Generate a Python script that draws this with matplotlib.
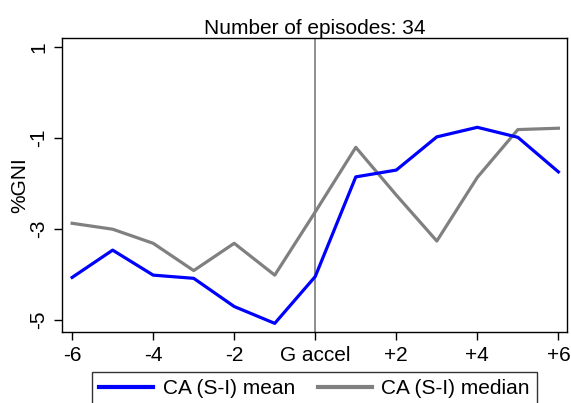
import matplotlib.pyplot as plt

plt.rcParams['font.family'] = ['Liberation Sans', 'DejaVu Sans']

years = [-6, -5, -4, -3, -2, -1, 0, 1, 2, 3, 4, 5, 6]
ca_mean = [-4.07, -3.47, -4.02, -4.09, -4.71, -5.08, -4.05, -1.86, -1.71, -0.98, -0.77, -0.99, -1.75]
ca_median = [-2.88, -3.01, -3.32, -3.92, -3.32, -4.02, -2.63, -1.21, -2.26, -3.27, -1.87, -0.82, -0.79]

xticks = [-6, -4, -2, 0, 2, 4, 6]
xtick_labels = ['-6', '-4', '-2', 'G accel', '+2', '+4', '+6']
yticks = [1, -1, -3, -5]

fig = plt.figure(figsize=(5.71, 4.03), dpi=100)
ax = fig.add_axes([62 / 571, 1 - 332 / 403, (567.3 - 62) / 571, (332 - 37.7) / 403])

ax.axvline(0, color='#707070', lw=1.1, zorder=1)
ax.plot(years, ca_mean, color='#0000ff', lw=2.3, label='CA (S-I) mean', zorder=3)
ax.plot(years, ca_median, color='#808080', lw=2.3, label='CA (S-I) median', zorder=2)

ax.set_xlim(-6.25, 6.22)
ax.set_ylim(-5.27, 1.2)
ax.set_xticks(xticks)
ax.set_xticklabels(xtick_labels, fontsize=15)
ax.set_yticks(yticks)
ax.set_yticklabels([str(v) for v in yticks], fontsize=15, rotation=90, va='center')
ax.tick_params(direction='out', length=6, width=1, pad=4)
ax.set_ylabel('%GNI', fontsize=15, labelpad=0)
ax.set_title('Number of episodes: 34', fontsize=15, pad=3)
for s in ax.spines.values():
    s.set_linewidth(1)

leg = fig.legend(loc='upper center', bbox_to_anchor=(0.5506, 1 - 372 / 403), ncol=2,
                 fontsize=15, frameon=True, fancybox=False, edgecolor='black',
                 handlelength=2.6, columnspacing=1.1, borderpad=0.35, handletextpad=0.45,
                 borderaxespad=0)
leg.get_frame().set_linewidth(1)
for line in leg.get_lines():
    line.set_linewidth(3)

fig.savefig('out.png', dpi=100)
